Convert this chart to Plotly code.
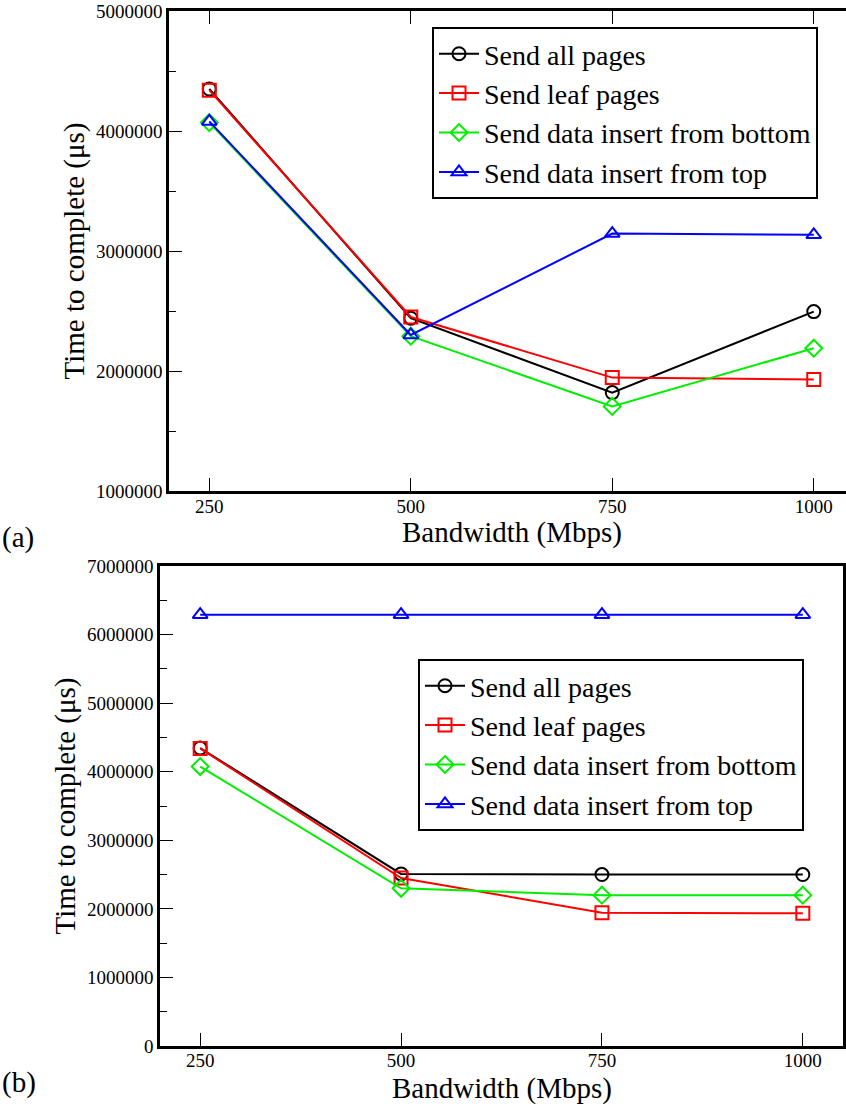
import plotly.graph_objects as go

bandwidth = [250, 500, 750, 1000]
series_names = ["Send all pages", "Send leaf pages",
                "Send data insert from bottom", "Send data insert from top"]
x_title = "Bandwidth (Mbps)"
y_title = "Time to complete (μs)"

# Panel (a)
a_all = [4350000, 2440000, 1820000, 2495000]
a_leaf = [4340000, 2450000, 1945000, 1930000]
a_bottom = [4070000, 2290000, 1705000, 2190000]
a_top = [4080000, 2300000, 3145000, 3135000]

# Panel (b)
b_all = [4345000, 2510000, 2500000, 2500000]
b_leaf = [4340000, 2450000, 1945000, 1935000]
b_bottom = [4075000, 2300000, 2200000, 2200000]
b_top = [6290000, 6290000, 6290000, 6290000]

colors = ["#000000", "#ff0000", "#00ee00", "#0000ff"]
symbols = ["circle-open", "square-open", "diamond-open", "triangle-up-open"]

W, H = 846, 1110
FONT = "Liberation Serif, DejaVu Serif, serif"

fig = go.Figure()

panels = [
    ([a_all, a_leaf, a_bottom, a_top], "x", "y", "legend"),
    ([b_all, b_leaf, b_bottom, b_top], "x2", "y2", "legend2"),
]
for data, xa, ya, lg in panels:
    for name, vals, c, s in zip(series_names, data, colors, symbols):
        fig.add_trace(go.Scatter(
            x=bandwidth, y=vals, name=name, mode="lines+markers",
            line=dict(color=c, width=2),
            marker=dict(symbol=s, size=13, color=c, line=dict(color=c, width=2)),
            xaxis=xa, yaxis=ya, legend=lg,
        ))

common_axis = dict(
    showline=True, linecolor="black", linewidth=2.5,
    ticks="inside", ticklen=13, tickwidth=1.2, tickcolor="black",
    showgrid=False, zeroline=False, automargin=False,
    tickfont=dict(family=FONT, size=19, color="black"),
    title_font=dict(family=FONT, size=29, color="black"),
)

def px_x(p):
    return p / W

def px_y(p):
    return 1 - p / H

legend_common = dict(xanchor="left", yanchor="top",
                     bgcolor="white", bordercolor="black", borderwidth=2,
                     font=dict(family=FONT, size=28, color="black"),
                     tracegroupgap=0, itemwidth=40)

title_font = dict(family=FONT, size=29, color="black")

fig.update_layout(
    width=W, height=H,
    margin=dict(l=0, r=0, t=0, b=0, autoexpand=False),
    paper_bgcolor="white", plot_bgcolor="white",
    font=dict(family=FONT, color="black"),
    xaxis=dict(domain=[px_x(169), 1.0], range=[200, 1040], anchor="y",
               tickvals=bandwidth, mirror="ticks", ticklabelstandoff=-4,
               **common_axis),
    yaxis=dict(domain=[px_y(491), px_y(11)], range=[1000000, 5000000], anchor="x",
               tickvals=[1000000, 2000000, 3000000, 4000000, 5000000],
               tickformat="d",
               minor=dict(dtick=500000, tick0=0, ticks="inside", ticklen=7,
                          tickcolor="black", tickwidth=1.2),
               title=dict(text=y_title, standoff=3), **common_axis),
    xaxis2=dict(domain=[px_x(160), px_x(843)], range=[200, 1050], anchor="y2",
                tickvals=bandwidth, mirror=True, ticklabelstandoff=-5,
                **common_axis),
    yaxis2=dict(domain=[px_y(1046), px_y(566)], range=[0, 7000000], anchor="x2",
                tickvals=[0, 1000000, 2000000, 3000000, 4000000, 5000000, 6000000, 7000000],
                tickformat="d", mirror=True,
                minor=dict(dtick=500000, tick0=0, ticks="inside", ticklen=7,
                           tickcolor="black", tickwidth=1.2),
                title=dict(text=y_title, standoff=3), **common_axis),
    legend=dict(x=px_x(432), y=px_y(27), **legend_common),
    legend2=dict(x=px_x(418), y=px_y(659), **legend_common),
    annotations=[
        dict(text=x_title, x=px_x(512), y=px_y(532), xref="paper", yref="paper",
             xanchor="center", yanchor="middle", showarrow=False, font=title_font),
        dict(text=x_title, x=px_x(502), y=px_y(1088), xref="paper", yref="paper",
             xanchor="center", yanchor="middle", showarrow=False, font=title_font),
        dict(text="(a)", x=0.0, y=px_y(538), xref="paper", yref="paper",
             xanchor="left", yanchor="middle", showarrow=False, font=title_font),
        dict(text="(b)", x=0.0, y=px_y(1082), xref="paper", yref="paper",
             xanchor="left", yanchor="middle", showarrow=False, font=title_font),
    ],
)

fig.write_html("out.html")
